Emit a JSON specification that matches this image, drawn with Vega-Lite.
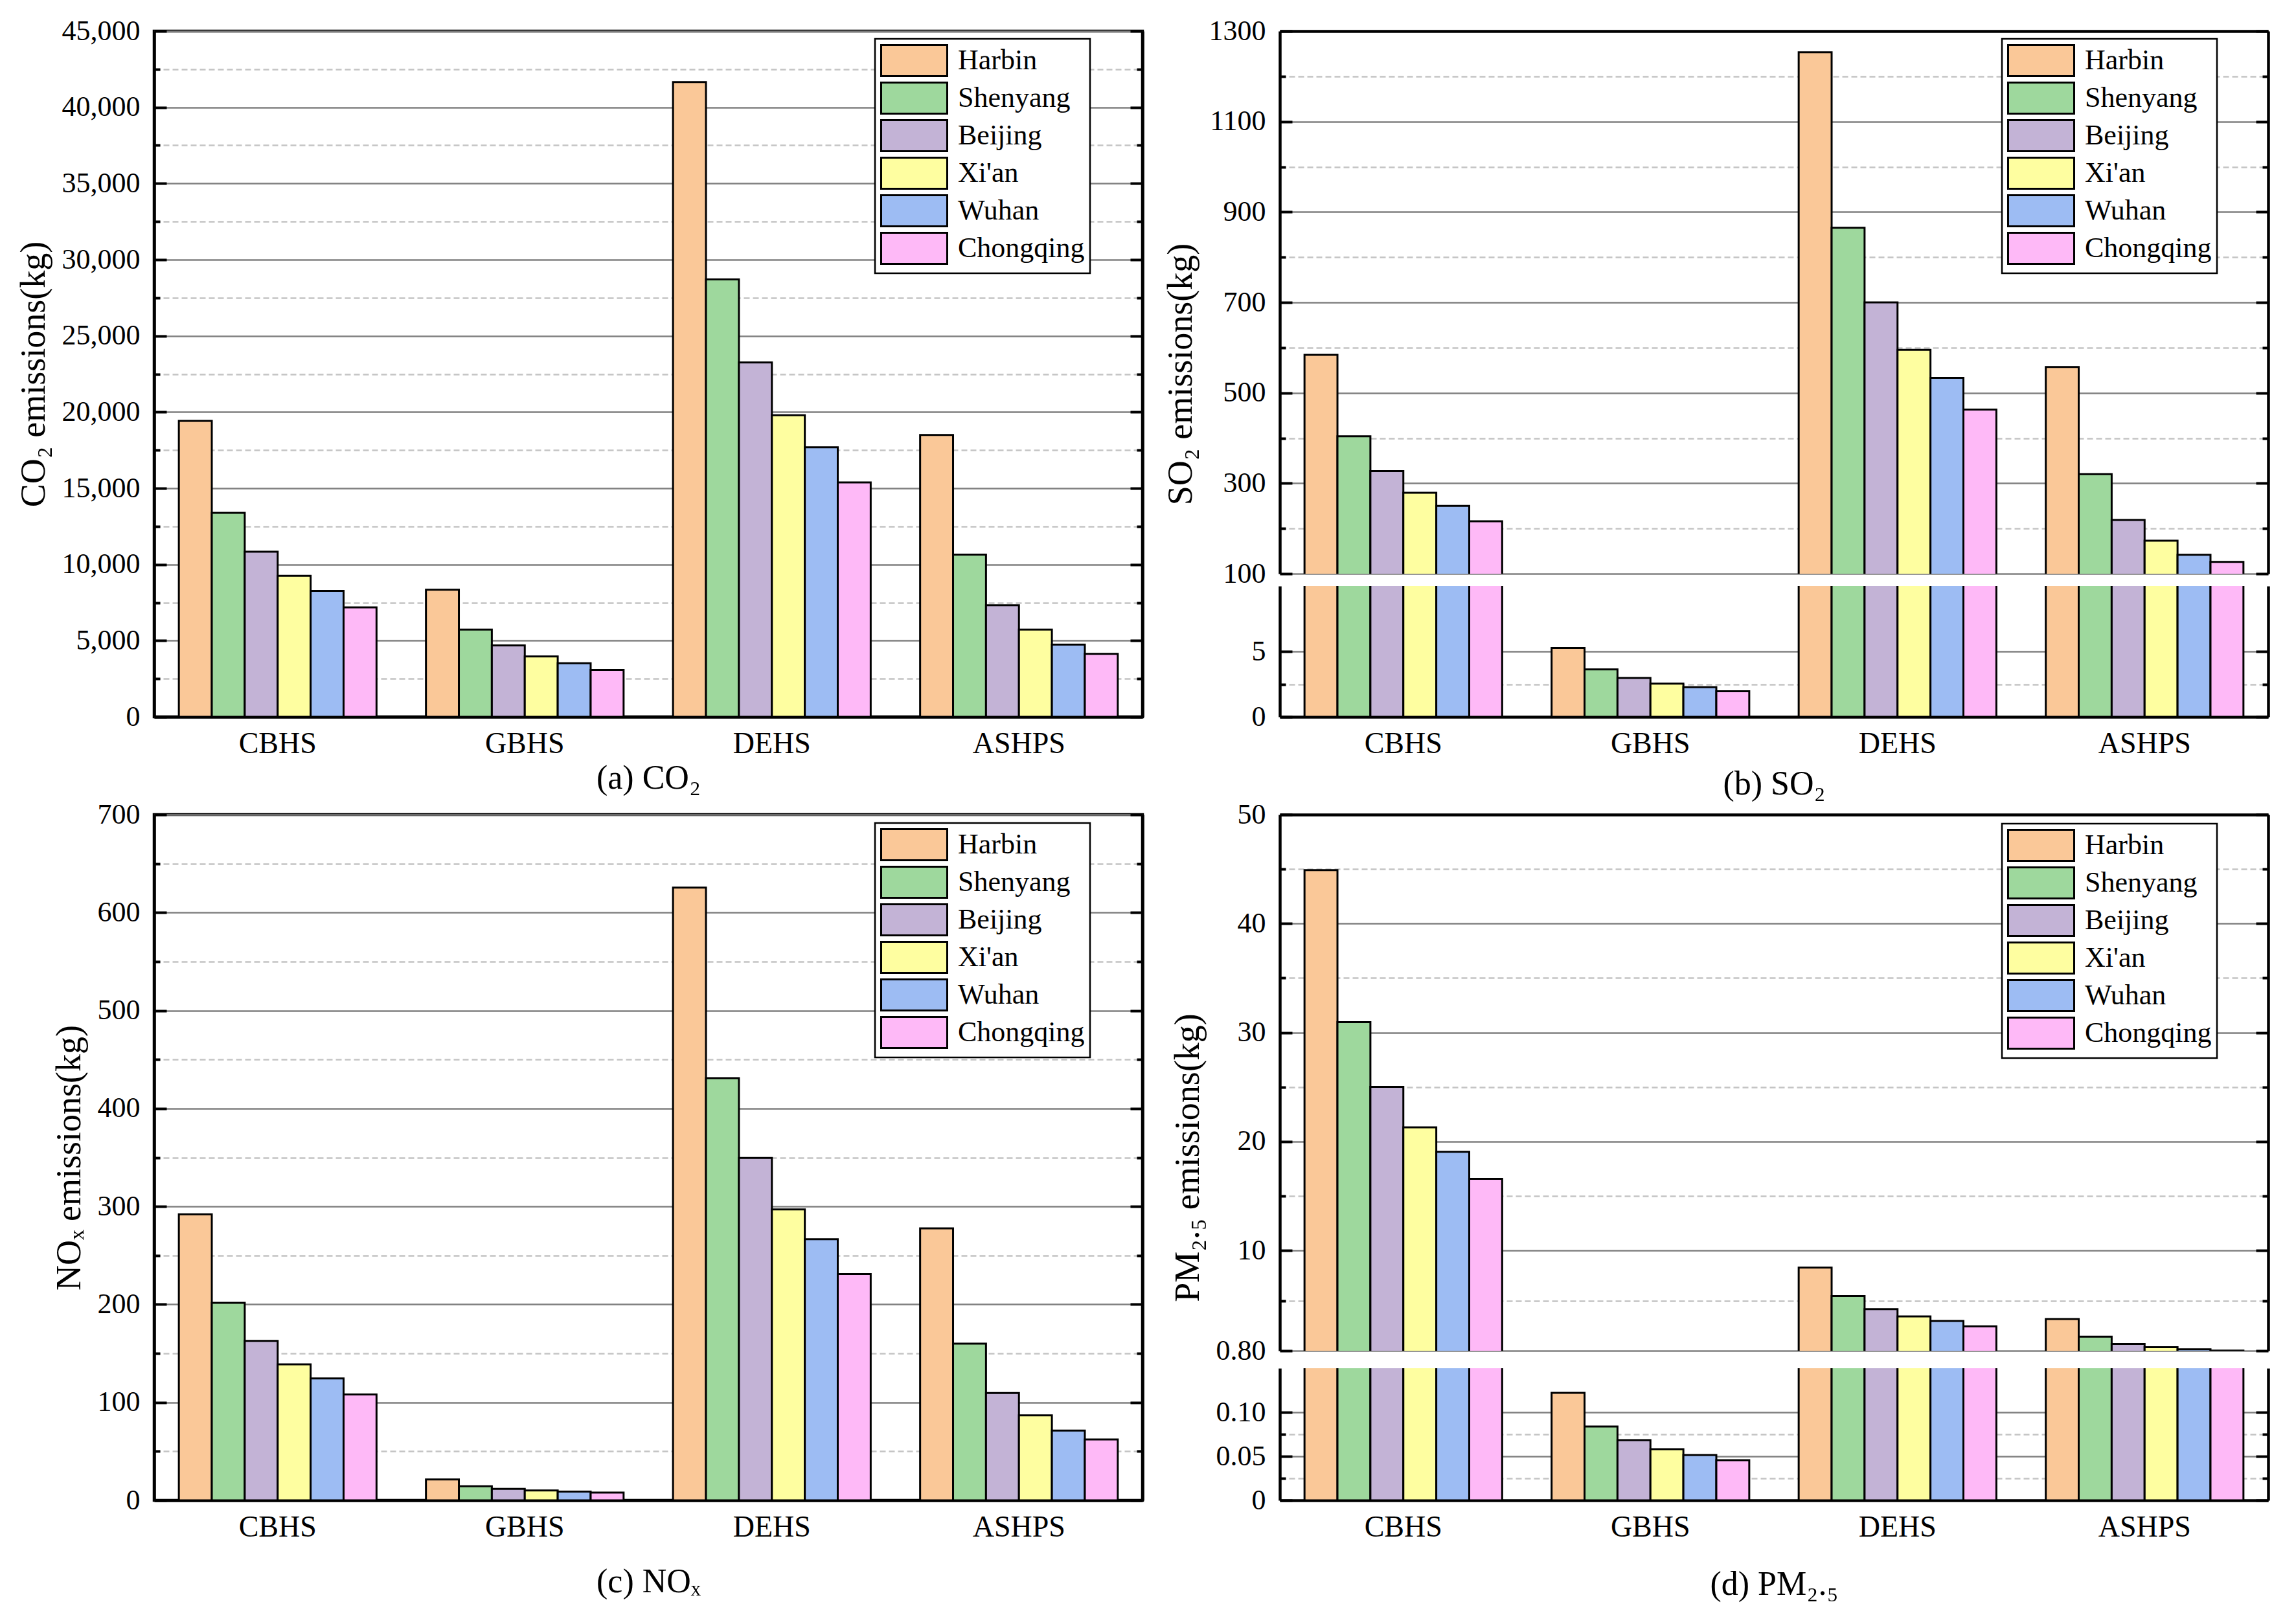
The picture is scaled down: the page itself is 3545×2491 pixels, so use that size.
{
  "$schema": "https://vega.github.io/schema/vega-lite/v6.json",
  "background": "white",
  "padding": {"left": 22, "top": 23, "right": 20, "bottom": 20},
  "config": {
    "font": "Liberation Serif",
    "view": {"stroke": null},
    "axis": {"labelFont": "Liberation Serif", "titleFont": "Liberation Serif", "labelColor": "black", "titleColor": "black", "domainColor": "black", "domainWidth": 4.5, "tickColor": "black", "tickWidth": 4, "titleFontWeight": "normal", "labelFontSize": 44, "titleFontSize": 54},
    "legend": {"labelLimit": 0}
  },
  "datasets": {
    "co2": [
      {"system": "CBHS", "city": "Harbin", "value": 19420}, {"system": "CBHS", "city": "Shenyang", "value": 13390}, {"system": "CBHS", "city": "Beijing", "value": 10840}, {"system": "CBHS", "city": "Xi'an", "value": 9250}, {"system": "CBHS", "city": "Wuhan", "value": 8270}, {"system": "CBHS", "city": "Chongqing", "value": 7180},
      {"system": "GBHS", "city": "Harbin", "value": 8340}, {"system": "GBHS", "city": "Shenyang", "value": 5730}, {"system": "GBHS", "city": "Beijing", "value": 4680}, {"system": "GBHS", "city": "Xi'an", "value": 3960}, {"system": "GBHS", "city": "Wuhan", "value": 3520}, {"system": "GBHS", "city": "Chongqing", "value": 3080},
      {"system": "DEHS", "city": "Harbin", "value": 41650}, {"system": "DEHS", "city": "Shenyang", "value": 28700}, {"system": "DEHS", "city": "Beijing", "value": 23250}, {"system": "DEHS", "city": "Xi'an", "value": 19790}, {"system": "DEHS", "city": "Wuhan", "value": 17690}, {"system": "DEHS", "city": "Chongqing", "value": 15380},
      {"system": "ASHPS", "city": "Harbin", "value": 18500}, {"system": "ASHPS", "city": "Shenyang", "value": 10640}, {"system": "ASHPS", "city": "Beijing", "value": 7320}, {"system": "ASHPS", "city": "Xi'an", "value": 5730}, {"system": "ASHPS", "city": "Wuhan", "value": 4740}, {"system": "ASHPS", "city": "Chongqing", "value": 4130}
    ],
    "so2": [
      {"system": "CBHS", "city": "Harbin", "value": 584}, {"system": "CBHS", "city": "Shenyang", "value": 404}, {"system": "CBHS", "city": "Beijing", "value": 327}, {"system": "CBHS", "city": "Xi'an", "value": 279}, {"system": "CBHS", "city": "Wuhan", "value": 250}, {"system": "CBHS", "city": "Chongqing", "value": 216},
      {"system": "GBHS", "city": "Harbin", "value": 5.27}, {"system": "GBHS", "city": "Shenyang", "value": 3.63}, {"system": "GBHS", "city": "Beijing", "value": 2.97}, {"system": "GBHS", "city": "Xi'an", "value": 2.54}, {"system": "GBHS", "city": "Wuhan", "value": 2.27}, {"system": "GBHS", "city": "Chongqing", "value": 1.95},
      {"system": "DEHS", "city": "Harbin", "value": 1253}, {"system": "DEHS", "city": "Shenyang", "value": 865}, {"system": "DEHS", "city": "Beijing", "value": 700}, {"system": "DEHS", "city": "Xi'an", "value": 595}, {"system": "DEHS", "city": "Wuhan", "value": 533}, {"system": "DEHS", "city": "Chongqing", "value": 463},
      {"system": "ASHPS", "city": "Harbin", "value": 557}, {"system": "ASHPS", "city": "Shenyang", "value": 320}, {"system": "ASHPS", "city": "Beijing", "value": 219}, {"system": "ASHPS", "city": "Xi'an", "value": 173}, {"system": "ASHPS", "city": "Wuhan", "value": 142}, {"system": "ASHPS", "city": "Chongqing", "value": 126}
    ],
    "nox": [
      {"system": "CBHS", "city": "Harbin", "value": 292}, {"system": "CBHS", "city": "Shenyang", "value": 201.6}, {"system": "CBHS", "city": "Beijing", "value": 162.8}, {"system": "CBHS", "city": "Xi'an", "value": 138.8}, {"system": "CBHS", "city": "Wuhan", "value": 124.5}, {"system": "CBHS", "city": "Chongqing", "value": 108},
      {"system": "GBHS", "city": "Harbin", "value": 21.3}, {"system": "GBHS", "city": "Shenyang", "value": 14.4}, {"system": "GBHS", "city": "Beijing", "value": 11.7}, {"system": "GBHS", "city": "Xi'an", "value": 10.1}, {"system": "GBHS", "city": "Wuhan", "value": 9.0}, {"system": "GBHS", "city": "Chongqing", "value": 8.0},
      {"system": "DEHS", "city": "Harbin", "value": 625.5}, {"system": "DEHS", "city": "Shenyang", "value": 431}, {"system": "DEHS", "city": "Beijing", "value": 349.5}, {"system": "DEHS", "city": "Xi'an", "value": 297}, {"system": "DEHS", "city": "Wuhan", "value": 266.5}, {"system": "DEHS", "city": "Chongqing", "value": 231},
      {"system": "ASHPS", "city": "Harbin", "value": 277.7}, {"system": "ASHPS", "city": "Shenyang", "value": 160}, {"system": "ASHPS", "city": "Beijing", "value": 109.6}, {"system": "ASHPS", "city": "Xi'an", "value": 86.7}, {"system": "ASHPS", "city": "Wuhan", "value": 71.3}, {"system": "ASHPS", "city": "Chongqing", "value": 62.2}
    ],
    "pm": [
      {"system": "CBHS", "city": "Harbin", "value": 44.9}, {"system": "CBHS", "city": "Shenyang", "value": 30.95}, {"system": "CBHS", "city": "Beijing", "value": 25.02}, {"system": "CBHS", "city": "Xi'an", "value": 21.3}, {"system": "CBHS", "city": "Wuhan", "value": 19.05}, {"system": "CBHS", "city": "Chongqing", "value": 16.57},
      {"system": "GBHS", "city": "Harbin", "value": 0.122}, {"system": "GBHS", "city": "Shenyang", "value": 0.0838}, {"system": "GBHS", "city": "Beijing", "value": 0.0683}, {"system": "GBHS", "city": "Xi'an", "value": 0.058}, {"system": "GBHS", "city": "Wuhan", "value": 0.0515}, {"system": "GBHS", "city": "Chongqing", "value": 0.0455},
      {"system": "DEHS", "city": "Harbin", "value": 8.44}, {"system": "DEHS", "city": "Shenyang", "value": 5.82}, {"system": "DEHS", "city": "Beijing", "value": 4.62}, {"system": "DEHS", "city": "Xi'an", "value": 3.95}, {"system": "DEHS", "city": "Wuhan", "value": 3.53}, {"system": "DEHS", "city": "Chongqing", "value": 3.05},
      {"system": "ASHPS", "city": "Harbin", "value": 3.71}, {"system": "ASHPS", "city": "Shenyang", "value": 2.09}, {"system": "ASHPS", "city": "Beijing", "value": 1.42}, {"system": "ASHPS", "city": "Xi'an", "value": 1.13}, {"system": "ASHPS", "city": "Wuhan", "value": 0.94}, {"system": "ASHPS", "city": "Chongqing", "value": 0.82}
    ]
  },
  "vconcat": [
    {
      "hconcat": [
        {
          "width": 1526, "height": 1059,
          "data": {"name": "co2"},
          "view": {"stroke": "black", "strokeWidth": 4.5},
          "layer": [
            {
              "mark": {"type": "bar", "stroke": "black", "strokeWidth": 3, "clip": true},
              "encoding": {
                "x": {"field": "system", "type": "nominal", "sort": ["CBHS", "GBHS", "DEHS", "ASHPS"], "scale": {"paddingInner": 0.2, "paddingOuter": 0.1}, "axis": {"orient": "bottom", "title": "(a) CO₂", "titleFontSize": 52, "titlePadding": 5, "labelFontSize": 46, "labelAngle": 0, "labelPadding": 19, "ticks": false, "domain": true, "grid": false}},
                "xOffset": {"field": "city", "type": "nominal", "sort": ["Harbin", "Shenyang", "Beijing", "Xi'an", "Wuhan", "Chongqing"], "scale": {"paddingInner": 0, "paddingOuter": 0}},
                "y": {"field": "value", "type": "quantitative", "scale": {"domain": [0, 45000], "nice": false, "zero": false},
                  "axis": {"orient": "left", "values": [0, 2500, 5000, 7500, 10000, 12500, 15000, 17500, 20000, 22500, 25000, 27500, 30000, 32500, 35000, 37500, 40000, 42500, 45000],
                    "labelExpr": "datum.value % 5000 === 0 ? format(datum.value, ',') : ''",
                    "tickSize": {"condition": {"test": "datum.value % 5000 === 0", "value": -19}, "value": -9},
                    "grid": true,
                    "gridColor": {"condition": {"test": "datum.value % 5000 === 0", "value": "#808080"}, "value": "#C4C4C4"},
                    "gridDash": {"condition": {"test": "datum.value % 5000 === 0", "value": []}, "value": [9, 5]},
                    "gridWidth": 2.5, "labelPadding": 41, "labelOverlap": false, "labelFlush": false, "labelBound": false,
                    "title": "CO₂ emissions(kg)", "titlePadding": 16, "domain": true}},
                "color": {"field": "city", "type": "nominal", "sort": ["Harbin", "Shenyang", "Beijing", "Xi'an", "Wuhan", "Chongqing"],
                  "scale": {"domain": ["Harbin", "Shenyang", "Beijing", "Xi'an", "Wuhan", "Chongqing"], "range": ["#FAC898", "#9ED89D", "#C3B3D6", "#FEFEA0", "#9DBCF3", "#FEB9F7"]},
                  "legend": {"title": null, "orient": "none", "legendX": 1113, "legendY": 12, "symbolType": "M-1,-1L3.25,-1L3.25,1L-1,1Z", "symbolSize": 2304, "symbolStrokeColor": "black", "symbolStrokeWidth": 3, "symbolOpacity": 1, "labelFont": "Liberation Serif", "labelFontSize": 44, "labelColor": "black", "labelOffset": 69, "labelLimit": 0, "rowPadding": -3, "padding": 8, "strokeColor": "black", "fillColor": "white", "encode": {"legend": {"update": {"strokeWidth": {"value": 2.5}}}}}}
              }
            },
            {
              "mark": {"type": "rule", "opacity": 0, "clip": true},
              "encoding": {
                "y": {"field": "value", "type": "quantitative", "scale": {"domain": [0, 45000], "nice": false, "zero": false},
                  "axis": {"orient": "right", "values": [0, 2500, 5000, 7500, 10000, 12500, 15000, 17500, 20000, 22500, 25000, 27500, 30000, 32500, 35000, 37500, 40000, 42500, 45000], "labels": false, "title": null, "grid": false,
                    "tickSize": {"condition": {"test": "datum.value % 5000 === 0", "value": -19}, "value": -9}, "domain": true}}
              }
            }
          ],
          "resolve": {"axis": {"y": "independent"}}
        },
        {
          "vconcat": [
            {
              "width": 1526, "height": 838,
              "data": {"name": "so2"},
              "layer": [
                {
                  "mark": {"type": "bar", "stroke": "black", "strokeWidth": 3, "clip": true},
                  "encoding": {
                    "x": {"field": "system", "type": "nominal", "sort": ["CBHS", "GBHS", "DEHS", "ASHPS"], "scale": {"paddingInner": 0.2, "paddingOuter": 0.1}, "axis": {"orient": "top", "title": null, "labels": false, "ticks": false, "domain": true, "grid": false}},
                    "xOffset": {"field": "city", "type": "nominal", "sort": ["Harbin", "Shenyang", "Beijing", "Xi'an", "Wuhan", "Chongqing"], "scale": {"paddingInner": 0, "paddingOuter": 0}},
                    "y": {"field": "value", "type": "quantitative", "scale": {"domain": [100, 1300], "nice": false, "zero": false},
                      "axis": {"orient": "left", "values": [100, 200, 300, 400, 500, 600, 700, 800, 900, 1000, 1100, 1200, 1300],
                        "labelExpr": "datum.value % 200 === 100 ? format(datum.value, 'd') : ''",
                        "tickSize": {"condition": {"test": "datum.value % 200 === 100", "value": -19}, "value": -9},
                        "grid": true,
                        "gridColor": {"condition": {"test": "datum.value % 200 === 100", "value": "#808080"}, "value": "#C4C4C4"},
                        "gridDash": {"condition": {"test": "datum.value % 200 === 100", "value": []}, "value": [9, 5]},
                        "gridWidth": 2.5, "labelPadding": 41, "labelOverlap": false, "labelFlush": false, "labelBound": false,
                        "title": "SO₂ emissions(kg)", "titlePadding": 16, "titleY": 529.5, "domain": true}},
                    "color": {"field": "city", "type": "nominal", "sort": ["Harbin", "Shenyang", "Beijing", "Xi'an", "Wuhan", "Chongqing"],
                      "scale": {"domain": ["Harbin", "Shenyang", "Beijing", "Xi'an", "Wuhan", "Chongqing"], "range": ["#FAC898", "#9ED89D", "#C3B3D6", "#FEFEA0", "#9DBCF3", "#FEB9F7"]},
                      "legend": {"title": null, "orient": "none", "legendX": 1115, "legendY": 12, "symbolType": "M-1,-1L3.25,-1L3.25,1L-1,1Z", "symbolSize": 2304, "symbolStrokeColor": "black", "symbolStrokeWidth": 3, "symbolOpacity": 1, "labelFont": "Liberation Serif", "labelFontSize": 44, "labelColor": "black", "labelOffset": 69, "labelLimit": 0, "rowPadding": -3, "padding": 8, "strokeColor": "black", "fillColor": "white", "encode": {"legend": {"update": {"strokeWidth": {"value": 2.5}}}}}}
                  }
                },
                {
                  "mark": {"type": "rule", "opacity": 0, "clip": true},
                  "encoding": {
                    "y": {"field": "value", "type": "quantitative", "scale": {"domain": [100, 1300], "nice": false, "zero": false},
                      "axis": {"orient": "right", "values": [100, 200, 300, 400, 500, 600, 700, 800, 900, 1000, 1100, 1200, 1300], "labels": false, "title": null, "grid": false,
                        "tickSize": {"condition": {"test": "datum.value % 200 === 100", "value": -19}, "value": -9}, "domain": true}}
                  }
                }
              ],
              "resolve": {"axis": {"y": "independent"}}
            },
            {
              "width": 1526, "height": 202,
              "data": {"name": "so2"},
              "layer": [
                {
                  "mark": {"type": "bar", "stroke": "black", "strokeWidth": 3, "clip": true},
                  "encoding": {
                    "x": {"field": "system", "type": "nominal", "sort": ["CBHS", "GBHS", "DEHS", "ASHPS"], "scale": {"paddingInner": 0.2, "paddingOuter": 0.1}, "axis": {"orient": "bottom", "title": "(b) SO₂", "titleFontSize": 52, "titlePadding": 14, "labelFontSize": 46, "labelAngle": 0, "labelPadding": 19, "ticks": false, "domain": true, "grid": false}},
                    "xOffset": {"field": "city", "type": "nominal", "sort": ["Harbin", "Shenyang", "Beijing", "Xi'an", "Wuhan", "Chongqing"], "scale": {"paddingInner": 0, "paddingOuter": 0}},
                    "y": {"field": "value", "type": "quantitative", "scale": {"domain": [0, 10], "nice": false, "zero": false},
                      "axis": {"orient": "left", "values": [0, 2.5, 5],
                        "labelExpr": "indexof([0, 5], datum.value) >= 0 ? format(datum.value, 'd') : ''",
                        "tickSize": {"condition": {"test": "indexof([0, 5], datum.value) >= 0", "value": -19}, "value": -9},
                        "grid": true,
                        "gridColor": {"condition": {"test": "indexof([0, 5], datum.value) >= 0", "value": "#808080"}, "value": "#C4C4C4"},
                        "gridDash": {"condition": {"test": "indexof([0, 5], datum.value) >= 0", "value": []}, "value": [9, 5]},
                        "gridWidth": 2.5, "labelPadding": 41, "labelOverlap": false, "labelFlush": false, "labelBound": false,
                        "title": null, "domain": true}},
                    "color": {"field": "city", "type": "nominal", "sort": ["Harbin", "Shenyang", "Beijing", "Xi'an", "Wuhan", "Chongqing"],
                      "scale": {"domain": ["Harbin", "Shenyang", "Beijing", "Xi'an", "Wuhan", "Chongqing"], "range": ["#FAC898", "#9ED89D", "#C3B3D6", "#FEFEA0", "#9DBCF3", "#FEB9F7"]},
                      "legend": null}
                  }
                },
                {
                  "mark": {"type": "rule", "opacity": 0, "clip": true},
                  "encoding": {
                    "y": {"field": "value", "type": "quantitative", "scale": {"domain": [0, 10], "nice": false, "zero": false},
                      "axis": {"orient": "right", "values": [0, 2.5, 5], "labels": false, "title": null, "grid": false,
                        "tickSize": {"condition": {"test": "indexof([0, 5], datum.value) >= 0", "value": -19}, "value": -9}, "domain": true}}
                  }
                }
              ],
              "resolve": {"axis": {"y": "independent"}}
            }
          ],
          "spacing": 19,
          "bounds": "flush",
          "resolve": {"scale": {"color": "independent"}, "legend": {"color": "independent"}}
        }
      ],
      "spacing": 27,
      "resolve": {"scale": {"color": "independent"}, "legend": {"color": "independent"}}
    },
    {
      "hconcat": [
        {
          "width": 1526, "height": 1059,
          "data": {"name": "nox"},
          "view": {"stroke": "black", "strokeWidth": 4.5},
          "layer": [
            {
              "mark": {"type": "bar", "stroke": "black", "strokeWidth": 3, "clip": true},
              "encoding": {
                "x": {"field": "system", "type": "nominal", "sort": ["CBHS", "GBHS", "DEHS", "ASHPS"], "scale": {"paddingInner": 0.2, "paddingOuter": 0.1}, "axis": {"orient": "bottom", "title": "(c) NOₓ", "titleFontSize": 52, "titlePadding": 36, "labelFontSize": 46, "labelAngle": 0, "labelPadding": 19, "ticks": false, "domain": true, "grid": false}},
                "xOffset": {"field": "city", "type": "nominal", "sort": ["Harbin", "Shenyang", "Beijing", "Xi'an", "Wuhan", "Chongqing"], "scale": {"paddingInner": 0, "paddingOuter": 0}},
                "y": {"field": "value", "type": "quantitative", "scale": {"domain": [0, 700], "nice": false, "zero": false},
                  "axis": {"orient": "left", "values": [0, 50, 100, 150, 200, 250, 300, 350, 400, 450, 500, 550, 600, 650, 700],
                    "labelExpr": "datum.value % 100 === 0 ? format(datum.value, 'd') : ''",
                    "tickSize": {"condition": {"test": "datum.value % 100 === 0", "value": -19}, "value": -9},
                    "grid": true,
                    "gridColor": {"condition": {"test": "datum.value % 100 === 0", "value": "#808080"}, "value": "#C4C4C4"},
                    "gridDash": {"condition": {"test": "datum.value % 100 === 0", "value": []}, "value": [9, 5]},
                    "gridWidth": 2.5, "labelPadding": 41, "labelOverlap": false, "labelFlush": false, "labelBound": false,
                    "title": "NOₓ emissions(kg)", "titlePadding": 16, "domain": true}},
                "color": {"field": "city", "type": "nominal", "sort": ["Harbin", "Shenyang", "Beijing", "Xi'an", "Wuhan", "Chongqing"],
                  "scale": {"domain": ["Harbin", "Shenyang", "Beijing", "Xi'an", "Wuhan", "Chongqing"], "range": ["#FAC898", "#9ED89D", "#C3B3D6", "#FEFEA0", "#9DBCF3", "#FEB9F7"]},
                  "legend": {"title": null, "orient": "none", "legendX": 1113, "legendY": 13, "symbolType": "M-1,-1L3.25,-1L3.25,1L-1,1Z", "symbolSize": 2304, "symbolStrokeColor": "black", "symbolStrokeWidth": 3, "symbolOpacity": 1, "labelFont": "Liberation Serif", "labelFontSize": 44, "labelColor": "black", "labelOffset": 69, "labelLimit": 0, "rowPadding": -3, "padding": 8, "strokeColor": "black", "fillColor": "white", "encode": {"legend": {"update": {"strokeWidth": {"value": 2.5}}}}}}
              }
            },
            {
              "mark": {"type": "rule", "opacity": 0, "clip": true},
              "encoding": {
                "y": {"field": "value", "type": "quantitative", "scale": {"domain": [0, 700], "nice": false, "zero": false},
                  "axis": {"orient": "right", "values": [0, 50, 100, 150, 200, 250, 300, 350, 400, 450, 500, 550, 600, 650, 700], "labels": false, "title": null, "grid": false,
                    "tickSize": {"condition": {"test": "datum.value % 100 === 0", "value": -19}, "value": -9}, "domain": true}}
              }
            }
          ],
          "resolve": {"axis": {"y": "independent"}}
        },
        {
          "vconcat": [
            {
              "width": 1526, "height": 828,
              "data": {"name": "pm"},
              "layer": [
                {
                  "mark": {"type": "bar", "stroke": "black", "strokeWidth": 3, "clip": true},
                  "encoding": {
                    "x": {"field": "system", "type": "nominal", "sort": ["CBHS", "GBHS", "DEHS", "ASHPS"], "scale": {"paddingInner": 0.2, "paddingOuter": 0.1}, "axis": {"orient": "top", "title": null, "labels": false, "ticks": false, "domain": true, "grid": false}},
                    "xOffset": {"field": "city", "type": "nominal", "sort": ["Harbin", "Shenyang", "Beijing", "Xi'an", "Wuhan", "Chongqing"], "scale": {"paddingInner": 0, "paddingOuter": 0}},
                    "y": {"field": "value", "type": "quantitative", "scale": {"domain": [0.8, 50], "nice": false, "zero": false},
                      "axis": {"orient": "left", "values": [0.8, 5.4, 10, 15, 20, 25, 30, 35, 40, 45, 50],
                        "labelExpr": "datum.value === 0.8 ? '0.80' : indexof([10, 20, 30, 40, 50], datum.value) >= 0 ? format(datum.value, 'd') : ''",
                        "tickSize": {"condition": {"test": "indexof([0.8, 10, 20, 30, 40, 50], datum.value) >= 0", "value": -19}, "value": -9},
                        "grid": true,
                        "gridColor": {"condition": {"test": "indexof([0.8, 10, 20, 30, 40, 50], datum.value) >= 0", "value": "#808080"}, "value": "#C4C4C4"},
                        "gridDash": {"condition": {"test": "indexof([0.8, 10, 20, 30, 40, 50], datum.value) >= 0", "value": []}, "value": [9, 5]},
                        "gridWidth": 2.5, "labelPadding": 41, "labelOverlap": false, "labelFlush": false, "labelBound": false,
                        "title": "PM₂.₅ emissions(kg)", "titlePadding": 16, "titleY": 529.5, "domain": true}},
                    "color": {"field": "city", "type": "nominal", "sort": ["Harbin", "Shenyang", "Beijing", "Xi'an", "Wuhan", "Chongqing"],
                      "scale": {"domain": ["Harbin", "Shenyang", "Beijing", "Xi'an", "Wuhan", "Chongqing"], "range": ["#FAC898", "#9ED89D", "#C3B3D6", "#FEFEA0", "#9DBCF3", "#FEB9F7"]},
                      "legend": {"title": null, "orient": "none", "legendX": 1115, "legendY": 14, "symbolType": "M-1,-1L3.25,-1L3.25,1L-1,1Z", "symbolSize": 2304, "symbolStrokeColor": "black", "symbolStrokeWidth": 3, "symbolOpacity": 1, "labelFont": "Liberation Serif", "labelFontSize": 44, "labelColor": "black", "labelOffset": 69, "labelLimit": 0, "rowPadding": -3, "padding": 8, "strokeColor": "black", "fillColor": "white", "encode": {"legend": {"update": {"strokeWidth": {"value": 2.5}}}}}}
                  }
                },
                {
                  "mark": {"type": "rule", "opacity": 0, "clip": true},
                  "encoding": {
                    "y": {"field": "value", "type": "quantitative", "scale": {"domain": [0.8, 50], "nice": false, "zero": false},
                      "axis": {"orient": "right", "values": [0.8, 5.4, 10, 15, 20, 25, 30, 35, 40, 45, 50], "labels": false, "title": null, "grid": false,
                        "tickSize": {"condition": {"test": "indexof([0.8, 10, 20, 30, 40, 50], datum.value) >= 0", "value": -19}, "value": -9}, "domain": true}}
                  }
                }
              ],
              "resolve": {"axis": {"y": "independent"}}
            },
            {
              "width": 1526, "height": 204,
              "data": {"name": "pm"},
              "layer": [
                {
                  "mark": {"type": "bar", "stroke": "black", "strokeWidth": 3, "clip": true},
                  "encoding": {
                    "x": {"field": "system", "type": "nominal", "sort": ["CBHS", "GBHS", "DEHS", "ASHPS"], "scale": {"paddingInner": 0.2, "paddingOuter": 0.1}, "axis": {"orient": "bottom", "title": "(d) PM₂.₅", "titleFontSize": 52, "titlePadding": 40, "labelFontSize": 46, "labelAngle": 0, "labelPadding": 19, "ticks": false, "domain": true, "grid": false}},
                    "xOffset": {"field": "city", "type": "nominal", "sort": ["Harbin", "Shenyang", "Beijing", "Xi'an", "Wuhan", "Chongqing"], "scale": {"paddingInner": 0, "paddingOuter": 0}},
                    "y": {"field": "value", "type": "quantitative", "scale": {"domain": [0, 0.15], "nice": false, "zero": false},
                      "axis": {"orient": "left", "values": [0, 0.025, 0.05, 0.075, 0.1],
                        "labelExpr": "datum.value === 0 ? '0' : indexof([0.05, 0.1], datum.value) >= 0 ? format(datum.value, '.2f') : ''",
                        "tickSize": {"condition": {"test": "indexof([0, 0.05, 0.1], datum.value) >= 0", "value": -19}, "value": -9},
                        "grid": true,
                        "gridColor": {"condition": {"test": "indexof([0, 0.05, 0.1], datum.value) >= 0", "value": "#808080"}, "value": "#C4C4C4"},
                        "gridDash": {"condition": {"test": "indexof([0, 0.05, 0.1], datum.value) >= 0", "value": []}, "value": [9, 5]},
                        "gridWidth": 2.5, "labelPadding": 41, "labelOverlap": false, "labelFlush": false, "labelBound": false,
                        "title": null, "domain": true}},
                    "color": {"field": "city", "type": "nominal", "sort": ["Harbin", "Shenyang", "Beijing", "Xi'an", "Wuhan", "Chongqing"],
                      "scale": {"domain": ["Harbin", "Shenyang", "Beijing", "Xi'an", "Wuhan", "Chongqing"], "range": ["#FAC898", "#9ED89D", "#C3B3D6", "#FEFEA0", "#9DBCF3", "#FEB9F7"]},
                      "legend": null}
                  }
                },
                {
                  "mark": {"type": "rule", "opacity": 0, "clip": true},
                  "encoding": {
                    "y": {"field": "value", "type": "quantitative", "scale": {"domain": [0, 0.15], "nice": false, "zero": false},
                      "axis": {"orient": "right", "values": [0, 0.025, 0.05, 0.075, 0.1], "labels": false, "title": null, "grid": false,
                        "tickSize": {"condition": {"test": "indexof([0, 0.05, 0.1], datum.value) >= 0", "value": -19}, "value": -9}, "domain": true}}
                  }
                }
              ],
              "resolve": {"axis": {"y": "independent"}}
            }
          ],
          "spacing": 27,
          "bounds": "flush",
          "resolve": {"scale": {"color": "independent"}, "legend": {"color": "independent"}}
        }
      ],
      "spacing": 38,
      "resolve": {"scale": {"color": "independent"}, "legend": {"color": "independent"}}
    }
  ],
  "spacing": -3,
  "resolve": {"scale": {"color": "independent"}, "legend": {"color": "independent"}}
}
